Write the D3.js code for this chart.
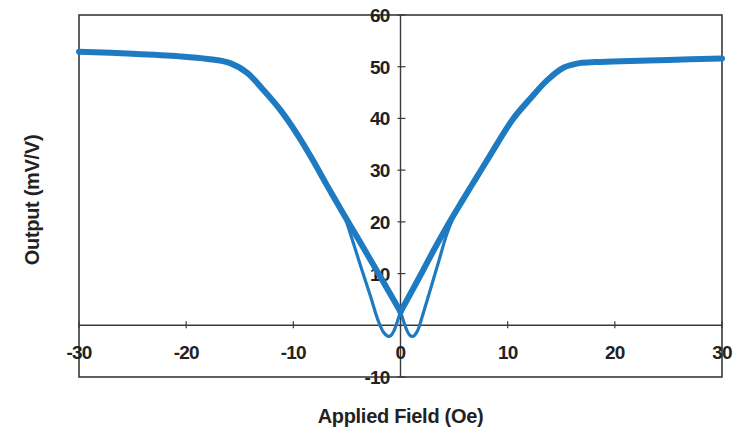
<!DOCTYPE html>
<html>
<head>
<meta charset="utf-8">
<script src="https://cdn.jsdelivr.net/npm/d3@7"></script>
<style>
  body { margin: 0; background: #fff; }
  text { font-family: "Liberation Sans", Arial, sans-serif; font-weight: bold; fill: #222; }
</style>
</head>
<body>
<svg width="735" height="428"></svg>
<script>
// main sweep (thick), split at the crossing point
const mainLeftField  = [-30, -25, -20.6, -18, -15.9, -14.3, -12.8, -11.2, -9.5, -8.2, -6.9, -5.4, -4.0, -2.0, 0];
const mainLeftOutput = [52.9, 52.5, 52.0, 51.5, 50.7, 48.8, 45.5, 41.6, 36.5, 32.0, 27.2, 21.8, 16.9, 9.8, 2.6];
const mainRightField  = [0, 2.0, 3.2, 4.5, 5.8, 7.1, 8.4, 10.5, 12.1, 13.7, 15.2, 16.7, 18.2, 19.8, 25, 30];
const mainRightOutput = [2.6, 10.2, 14.9, 19.7, 24.2, 28.6, 33.0, 39.9, 43.8, 47.4, 49.8, 50.7, 50.9, 51.0, 51.3, 51.6];

// hysteresis loops near zero field (thin)
const loopLeftField  = [-5.1, -4.4, -3.6, -2.8, -2.1, -1.6, -1.2, -0.9, -0.6, -0.3, 0];
const loopLeftOutput = [20.4, 15.9, 10.7, 5.6, 1.0, -1.3, -2.1, -2.0, -1.0, 0.7, 2.6];
const loopRightField  = [0, 0.3, 0.6, 0.9, 1.2, 1.6, 2.0, 2.8, 3.6, 4.3, 5.0];
const loopRightOutput = [2.6, 0.7, -1.0, -2.0, -2.1, -1.0, 1.5, 7.0, 12.6, 17.5, 21.2];

const xTicks = [-30, -20, -10, 0, 10, 20, 30];
const yTicks = [60, 50, 40, 30, 20, 10, -10];

const svg = d3.select("svg");
const plotLeft = 79, plotRight = 722, plotTop = 15, plotBottom = 377;

const x = d3.scaleLinear().domain([-30, 30]).range([plotLeft, plotRight]);
const y = d3.scaleLinear().domain([-10, 60]).range([plotBottom, plotTop]);

const axisColor = "#3a3a3a";

// frame
svg.append("rect")
  .attr("x", plotLeft).attr("y", plotTop)
  .attr("width", plotRight - plotLeft).attr("height", plotBottom - plotTop)
  .attr("fill", "none").attr("stroke", axisColor).attr("stroke-width", 1.6);

// zero lines
svg.append("line")
  .attr("x1", x(0)).attr("x2", x(0)).attr("y1", plotTop).attr("y2", plotBottom)
  .attr("stroke", axisColor).attr("stroke-width", 1.4);
svg.append("line")
  .attr("x1", plotLeft).attr("x2", plotRight).attr("y1", y(0)).attr("y2", y(0))
  .attr("stroke", axisColor).attr("stroke-width", 1.4);

// tick marks
svg.append("g").selectAll("line")
  .data(xTicks)
  .enter().append("line")
  .attr("x1", d => x(d)).attr("x2", d => x(d))
  .attr("y1", y(0) - 4).attr("y2", y(0) + 3)
  .attr("stroke", axisColor).attr("stroke-width", 1.2);
svg.append("g").selectAll("line")
  .data(yTicks)
  .enter().append("line")
  .attr("x1", x(0) - 3).attr("x2", x(0) + 5)
  .attr("y1", d => y(d)).attr("y2", d => y(d))
  .attr("stroke", axisColor).attr("stroke-width", 1.2);

// tick labels
svg.append("g").selectAll("text")
  .data(xTicks)
  .enter().append("text")
  .attr("x", d => x(d))
  .attr("y", y(0) + 34)
  .attr("text-anchor", "middle")
  .attr("font-size", 19)
  .attr("letter-spacing", -0.8)
  .text(d => d);
svg.append("g").selectAll("text")
  .data(yTicks)
  .enter().append("text")
  .attr("x", x(0) - 11)
  .attr("y", d => y(d) + 7)
  .attr("text-anchor", "end")
  .attr("font-size", 19)
  .attr("letter-spacing", -0.8)
  .text(d => d);

// axis titles
svg.append("text")
  .attr("x", (plotLeft + plotRight) / 2)
  .attr("y", 423)
  .attr("text-anchor", "middle")
  .attr("font-size", 20)
  .attr("letter-spacing", -0.3)
  .text("Applied Field (Oe)");
svg.append("text")
  .attr("transform", "translate(39," + ((plotTop + plotBottom) / 2 + 4) + ") rotate(-90)")
  .attr("text-anchor", "middle")
  .attr("font-size", 20)
  .attr("letter-spacing", -0.3)
  .text("Output (mV/V)");

// curves
const line = d3.line()
  .x(d => x(d[0]))
  .y(d => y(d[1]))
  .curve(d3.curveCatmullRom);

const blue = "#1f7bc1";
const series = [
  { f: loopLeftField, o: loopLeftOutput, w: 3.2 },
  { f: loopRightField, o: loopRightOutput, w: 3.2 },
  { f: mainLeftField, o: mainLeftOutput, w: 6 },
  { f: mainRightField, o: mainRightOutput, w: 6 }
];

svg.append("g").selectAll("path")
  .data(series)
  .enter().append("path")
  .attr("d", s => line(d3.zip(s.f, s.o)))
  .attr("fill", "none")
  .attr("stroke", blue)
  .attr("stroke-width", s => s.w)
  .attr("stroke-linejoin", "round")
  .attr("stroke-linecap", "round");
</script>
</body>
</html>
